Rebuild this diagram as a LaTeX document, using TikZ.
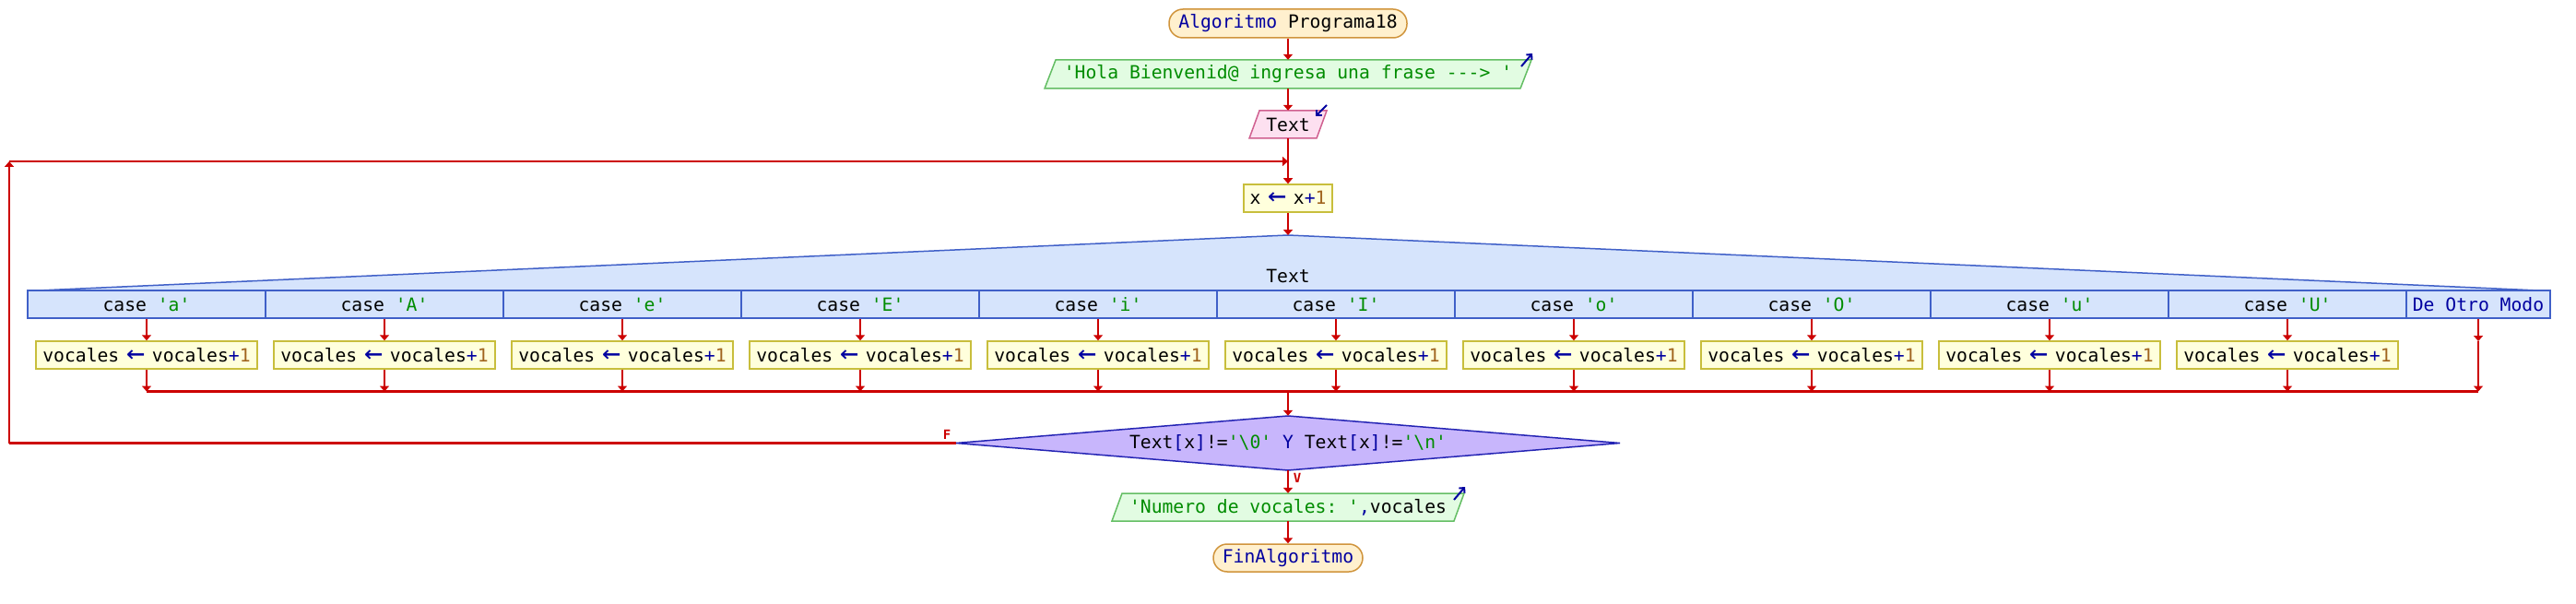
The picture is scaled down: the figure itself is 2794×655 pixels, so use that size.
\documentclass[tikz,border=0pt]{standalone}
\usepackage{fontspec}
\usepackage{graphicx}
\setmonofont{DejaVu Sans Mono}
\usetikzlibrary{arrows.meta}
\definecolor{arrc}{RGB}{204,0,0}
\definecolor{kwc}{RGB}{0,0,160}
\definecolor{strc}{RGB}{0,140,0}
\definecolor{numc}{RGB}{160,100,30}
\definecolor{termfill}{RGB}{255,240,206}
\definecolor{termdraw}{RGB}{208,148,60}
\definecolor{outfill}{RGB}{226,252,226}
\definecolor{outdraw}{RGB}{100,190,100}
\definecolor{infill}{RGB}{253,224,240}
\definecolor{indraw}{RGB}{208,96,144}
\definecolor{asfill}{RGB}{255,255,220}
\definecolor{asdraw}{RGB}{200,190,60}
\definecolor{swfill}{RGB}{214,228,252}
\definecolor{swdraw}{RGB}{64,96,200}
\definecolor{dfill}{RGB}{200,182,252}
\definecolor{ddraw}{RGB}{36,36,180}
\newcommand{\kw}[1]{\textcolor{kwc}{#1}}
\newcommand{\strg}[1]{\textcolor{strc}{#1}}
\newcommand{\numb}[1]{\textcolor{numc}{#1}}
\newcommand{\asg}{\kw{\makebox[0.602em][c]{\raisebox{-0.05em}{\scalebox{1.7}[1.6]{←}}}}}
\begin{document}
\begin{tikzpicture}[x=1pt,y=-1pt,
  every node/.style={font=\ttfamily\fontsize{19.7}{24}\selectfont, inner sep=0pt},
  flow/.style={draw=arrc, line width=2.2pt, -{Triangle[width=10pt,length=6pt]}},
  plain/.style={draw=arrc, line width=2.2pt},
  term/.style={draw=termdraw, fill=termfill, line width=1.5pt, rounded corners=15pt},
  outshape/.style={draw=outdraw, fill=outfill, line width=1.5pt},
  inshape/.style={draw=indraw, fill=infill, line width=1.5pt},
  asbox/.style={draw=asdraw, fill=asfill, line width=1.5pt, minimum height=30pt},
  casebox/.style={draw=swdraw, fill=swfill, line width=1.5pt, minimum width=258pt, minimum height=30pt},
  icon/.style={draw=kwc, line width=2pt, -{Straight Barb[length=4pt,width=8pt]}},
  lab/.style={font=\ttfamily\bfseries\fontsize{14}{16}\selectfont, text=arrc}
]
\fill[white] (0,0) rectangle (2794,655);
\useasboundingbox (0,0) rectangle (2794,655);

% start
\node[term, minimum width=258pt, minimum height=31pt] (start) at (1397,25.5) {\kw{Algoritmo} Programa18};

% output 1
\draw[outshape] (1133,96) -- (1145,65) -- (1661,65) -- (1649,96) -- cycle;
\node[minimum width=504pt, minimum height=31pt] (out1) at (1397,80.5) {\strg{'Hola Bienvenid@ ingresa una frase ---> '}};
\draw[icon] (1650,72) -- (1662,58);

% input
\draw[inshape] (1355,150) -- (1366,120) -- (1439,120) -- (1428,150) -- cycle;
\node[minimum width=62pt, minimum height=30pt] (in1) at (1397,135) {Text};
\draw[icon] (1439,114) -- (1427,126);

% assignment
\node[asbox, minimum width=96pt] (as1) at (1397,215) {x \asg{} x\kw{+}\numb{1}};

% switch header
\coordinate (apex) at (1397,255);
\fill[swfill] (42,315) -- (apex) -- (2753,315) -- cycle;
\draw[swdraw, line width=1.5pt] (42,315) -- (apex) -- (2753,315);
\node (swlab) at (1397,299) {Text};

\coordinate (mrg) at (1397,424.5);
\foreach \lab [count=\i] in {a,A,e,E,i,I,o,O,u,U} {
  \node[casebox] (c\i) at ({159+258*(\i-1)},330) {case \strg{'\lab'}};
  \node[asbox, minimum width=240pt] (b\i) at ({159+258*(\i-1)},385) {vocales \asg{} vocales\kw{+}\numb{1}};
  \draw[flow] (c\i) -- (b\i);
  \draw[flow] (b\i) -- (b\i.south |- mrg);
}
\node[draw=swdraw, fill=swfill, line width=1.5pt, minimum width=156pt, minimum height=30pt] (def) at (2688,330) {\kw{De Otro Modo}};
\coordinate (dmid) at (2688,370);
\draw[flow] (def) -- (dmid);
\draw[flow] (dmid) -- (def.south |- mrg);
\draw[plain] (b1.south |- mrg) -- (def.south |- mrg);

% connector from assignment to switch
\draw[flow] (as1) -- (apex);

% decision
\coordinate (dT) at (1397,451);
\coordinate (dR) at (1757,480.5);
\coordinate (dB) at (1397,510);
\coordinate (dL) at (1037,480.5);
\draw[fill=dfill, draw=ddraw, line width=1.5pt] (dT) -- (dR) -- (dB) -- (dL) -- cycle;
\node[minimum width=720pt, minimum height=59pt] (cond) at (1397,480.5) {Text\kw{[}x\kw{]}!=\strg{'\textbackslash0'} \kw{Y} Text\kw{[}x\kw{]}!=\strg{'\textbackslash n'}};
\draw[flow] (mrg) -- (cond.north);

% loop back
\coordinate (lbot) at (10,480.5);
\coordinate (ltop) at (10,175);
\coordinate (lj) at (1397,175);
\draw[plain] (cond.west) -- (lbot);
\draw[flow] (lbot) -- (ltop);
\draw[flow] (ltop) -- (lj);
\node[lab] (fl) at (1027,471) {F};
\node[lab] (vl) at (1407,518) {V};

% output 2
\draw[outshape] (1206,565) -- (1217,535) -- (1588,535) -- (1577,565) -- cycle;
\node[minimum width=372pt, minimum height=30pt] (out2) at (1397,550) {\strg{'Numero de vocales: '}\kw{,}vocales};
\draw[icon] (1577,542) -- (1589,528);

% end
\node[term, minimum width=162pt, minimum height=30pt] (fin) at (1397,605) {\kw{FinAlgoritmo}};

% main axis connectors
\draw[flow] (start) -- (out1);
\draw[flow] (out1) -- (in1);
\draw[flow] (in1) -- (as1);
\draw[flow] (cond.south) -- (out2);
\draw[flow] (out2) -- (fin);
\end{tikzpicture}
\end{document}
